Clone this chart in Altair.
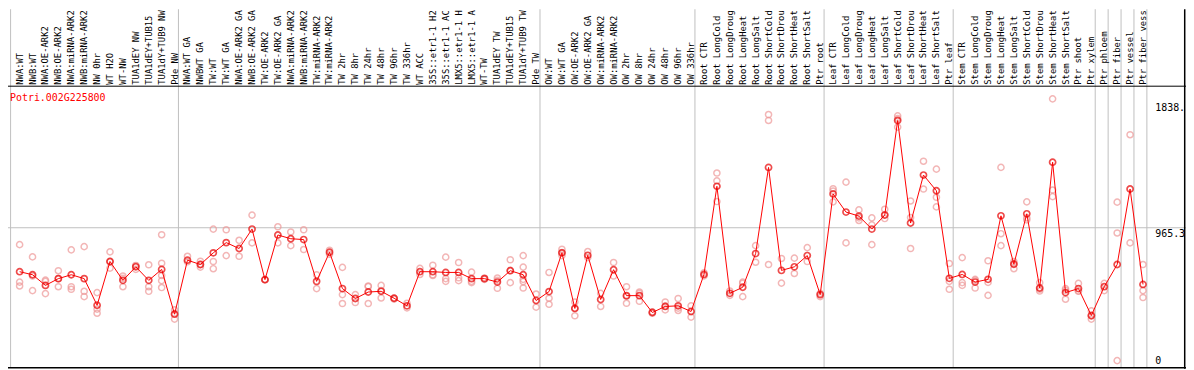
import altair as alt
import pandas as pd

gene = "Potri.002G225800"

categories = [
    "NWA:WT", "NWB:WT", "NWA:OE-ARK2", "NWB:OE-ARK2", "NWA:miRNA-ARK2", "NWB:miRNA-ARK2",
    "NW 0hr", "WT H2O", "WT-NW", "TUA1dEY NW", "TUA1dEY+TUB15", "TUA1dY+TUB9 NW", "Pde NW",
    "NWA:WT GA", "NWBWT GA", "TW:WT", "TW:WT GA", "NWA:OE-ARK2 GA", "NWB:OE-ARK2 GA",
    "TW:OE-ARK2", "TW:OE-ARK2 GA", "NWA:miRNA-ARK2", "NWB:miRNA-ARK2", "TW:miRNA-ARK2",
    "TW:miRNA-ARK2", "TW 2hr", "TW 8hr", "TW 24hr", "TW 48hr", "TW 96hr", "TW 336hr",
    "WT ACC", "35S::etr1-1 H2", "35S::etr1-1 AC", "LMX5::etr1-1 H", "LMX5::etr1-1 A",
    "WT-TW", "TUA1dEY TW", "TUA1dEY+TUB15", "TUA1dY+TUB9 TW", "Pde TW",
    "OW:WT", "OW:WT GA", "OW:OE-ARK2", "OW:OE-ARK2 GA", "OW:miRNA-ARK2", "OW:miRNA-ARK2",
    "OW 2hr", "OW 8hr", "OW 24hr", "OW 48hr", "OW 96hr", "OW 336hr",
    "Root CTR", "Root LongCold", "Root LongDroug", "Root LongHeat", "Root LongSalt",
    "Root ShortCold", "Root ShortDrou", "Root ShortHeat", "Root ShortSalt", "Ptr root",
    "Leaf CTR", "Leaf LongCold", "Leaf LongDroug", "Leaf LongHeat", "Leaf LongSalt",
    "Leaf ShortCold", "Leaf ShortDrou", "Leaf ShortHeat", "Leaf ShortSalt", "Ptr leaf",
    "Stem CTR", "Stem LongCold", "Stem LongDroug", "Stem LongHeat", "Stem LongSalt",
    "Stem ShortCold", "Stem ShortDrou", "Stem ShortHeat", "Stem ShortSalt", "Ptr shoot",
    "Ptr xylem", "Ptr phloem", "Ptr fiber", "Ptr vessel", "Ptr fiber vess",
]

means = [
    660, 639, 565, 612, 639, 612, 427, 731, 600, 694, 600, 676, 365,
    740, 710, 791, 862, 821, 956, 605, 915, 889, 883, 593, 795, 543, 474, 519, 524, 476, 423,
    660, 660, 655, 655, 612, 612, 588, 667, 639, 460,
    522, 791, 405, 774, 467, 674, 494, 494, 377, 419, 423, 384,
    641, 1253, 510, 552, 786, 1384, 669, 694, 772, 501,
    1200, 1074, 1046, 956, 1053, 1710, 998, 1331, 1222, 614,
    641, 588, 607, 1048, 712, 1062, 547, 1420, 515, 543, 356,
    556, 710, 1234, 572,
]

replicates = [
    [848, 588, 561], [763, 630, 529], [602, 593, 508], [667, 556, 612], [812, 556, 538],
    [834, 524, 487], [515, 400, 372], [798, 685, 731], [630, 556, 614], [703, 676, 701],
    [708, 556, 524], [917, 719, 634, 598, 550], [395, 331, 370],
    [767, 729], [733, 692, 710], [956, 731, 681], [951, 772], [878, 767], [1053, 860],
    [605, 605], [972, 860], [936, 841], [951, 814], [639, 543], [809, 781],
    [690, 501, 439], [501, 446], [561, 557, 439], [565, 478, 530], [476, 470], [409, 441],
    [683, 641], [705, 639, 634], [761, 612, 593], [724, 618, 598], [657, 584, 593],
    [616, 607], [616, 545, 600], [743, 584, 669], [772, 692, 607, 591, 547], [505, 414],
    [655, 476, 434], [816, 772, 793], [450, 354, 407], [800, 758], [510, 419], [724, 630],
    [556, 441, 490], [519, 455, 510], [381, 372], [450, 395, 421], [474, 391, 407], [423, 345],
    [653, 631], [1345, 1291, 1147], [526, 496], [588, 487, 580], [841, 726],
    [1751, 1710, 710], [752, 581], [754, 648], [827, 731], [487, 510],
    [1236, 1145, 1220], [1282, 860], [1089, 1016, 1034], [1034, 848, 985], [1094, 1029, 1055],
    [1742, 1664, 1724], [1151, 1036, 821], [1427, 1234], [1372, 1177, 1110], [717, 538, 593],
    [758, 584, 565], [607, 547, 600], [736, 496, 586], [1384, 924, 841], [731, 681, 717],
    [1145, 1020, 1034], [584, 526, 538], [1860, 1227, 1181], [543, 469, 531], [579, 524, 527],
    [388, 331, 352],
    [579, 529], [1143, 929, 43], [1611, 860], [710, 529, 481],
]

group_starts = [0, 13, 41, 53, 63, 73, 84, 85, 86, 87, 88]
axis_top_labels = ["1838.", "965.3"]
axis_top_values = [1838.6, 965.3]
axis_zero_label = "0"
grid_value = 965.3

W, H = 1186, 362
FONT = "DejaVu Sans Mono"

xscale = alt.Scale(domain=[-0.9, 90.33], nice=False, zero=False)
yscale = alt.Scale(domain=[-13.79, 2482.2], nice=False, zero=False)

mean_df = pd.DataFrame({"i": list(range(len(categories))), "v": means, "label": categories})
rep_rows = [{"i": i, "v": v} for i, reps in enumerate(replicates) for v in reps]
rep_df = pd.DataFrame(rep_rows)
sep_df = pd.DataFrame({"i": [g - 0.7 for g in group_starts]})
grid_df = pd.DataFrame({"v": [grid_value]})
ytop_df = pd.DataFrame({"v": axis_top_values, "t": axis_top_labels})
yzero_df = pd.DataFrame({"v": [0], "t": [axis_zero_label]})
title_df = pd.DataFrame({"t": [gene]})
frame_df = pd.DataFrame({"k": [0]})

X = alt.X("i:Q", scale=xscale, axis=None)
Y = alt.Y("v:Q", scale=yscale, axis=None)

separators = alt.Chart(sep_df).mark_rule(color="#c0c0c0", strokeWidth=1).encode(
    x=X, y=alt.value(0), y2=alt.value(361)
)
grid = alt.Chart(grid_df).mark_rule(color="#c0c0c0", strokeWidth=1).encode(
    y=Y, x=alt.value(0), x2=alt.value(1186)
)
frame_top = alt.Chart(frame_df).mark_rule(color="black", strokeWidth=1).encode(
    y=alt.value(77.5), x=alt.value(0), x2=alt.value(1186)
)
frame_bottom = alt.Chart(frame_df).mark_rule(color="black", strokeWidth=1.5).encode(
    y=alt.value(361), x=alt.value(0), x2=alt.value(1186)
)
frame_right = alt.Chart(frame_df).mark_rule(color="black", strokeWidth=1.5).encode(
    x=alt.value(1184.7), y=alt.value(0), y2=alt.value(362)
)

reps = alt.Chart(rep_df).mark_point(
    shape="circle", filled=False, color="#ee9898", strokeWidth=1.5, size=38
).encode(x=X, y=Y)

line = alt.Chart(mean_df).mark_line(color="#ff0000", strokeWidth=1).encode(x=X, y=Y)

mean_pts = alt.Chart(mean_df).mark_point(
    shape="circle", filled=False, color="#e80000", strokeWidth=1.7, size=38
).encode(x=X, y=Y)

cat_labels = alt.Chart(mean_df).mark_text(
    angle=270, align="left", baseline="middle", font=FONT, fontSize=8.9, color="black"
).encode(x=X, y=alt.value(76), text="label:N")

title = alt.Chart(title_df).mark_text(
    align="left", baseline="alphabetic", font=FONT, fontSize=10, color="#ff0000"
).encode(x=alt.value(2), y=alt.value(92), text="t:N")

ytop = alt.Chart(ytop_df).mark_text(
    align="left", baseline="top", font=FONT, fontSize=10, color="black", dy=1
).encode(x=alt.value(1155), y=Y, text="t:N")

yzero = alt.Chart(yzero_df).mark_text(
    align="left", baseline="bottom", font=FONT, fontSize=10, color="black", dy=-1
).encode(x=alt.value(1155), y=Y, text="t:N")

chart = alt.layer(
    separators, grid, frame_top, frame_bottom, frame_right,
    reps, line, mean_pts, cat_labels, title, ytop, yzero
).properties(
    width=W, height=H, padding=0, autosize=alt.AutoSizeParams(type="none"), background="white"
).configure_view(stroke=None)

chart.save("out.html", embed_options={"renderer": "svg", "actions": False})
